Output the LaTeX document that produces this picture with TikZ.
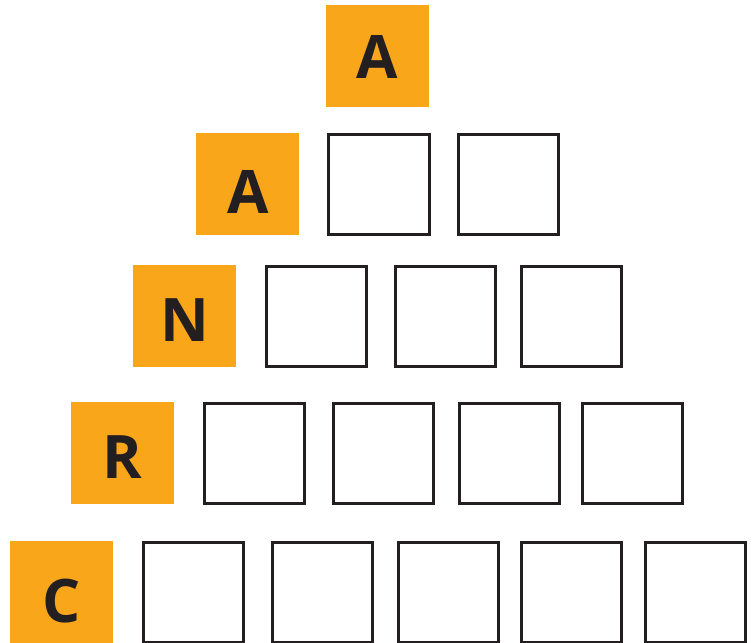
\documentclass[tikz,border=0pt]{standalone}
\usepackage{fontspec}
\setmainfont{Open Sans}
\usepackage{tikz}
\definecolor{tileorange}{HTML}{F9A61B}
\definecolor{tileink}{HTML}{231F20}

\begin{document}
\begin{tikzpicture}[
    x=1pt, y=-1pt,
    letterbox/.style={fill=tileorange, minimum width=103pt, minimum height=102pt, inner sep=0pt},
    letter/.style={inner sep=0pt, font=\fontsize{60}{60}\selectfont\bfseries, text=tileink},
    blankbox/.style={draw=tileink, line width=2.8pt, fill=white, minimum size=100.5pt, inner sep=0pt}
]
    \useasboundingbox (0,0) rectangle (753,643);
    \clip (0,0) rectangle (753,643);

    % Row 1
    \node[letterbox] (l1) at (377.5,56) {};
    \node[letter] (t1) at ([yshift=-0.5pt]l1.center) {A};

    % Row 2
    \node[letterbox] (l2) at (247.5,184) {};
    \node[letter] (t2) at ([xshift=1pt,yshift=-8pt]l2.center) {A};
    \node[blankbox] (b21) at (379,184.5) {};
    \node[blankbox] (b22) at (508.5,184.5) {};

    % Row 3
    \node[letterbox] (l3) at (184.5,316) {};
    \node[letter] (t3) at ([yshift=-4.5pt]l3.center) {N};
    \node[blankbox] (b31) at (316.5,316.5) {};
    \node[blankbox] (b32) at (445.5,316.5) {};
    \node[blankbox] (b33) at (571.5,316.5) {};

    % Row 4
    \node[letterbox] (l4) at (122.5,453) {};
    \node[letter] (t4) at ([yshift=-4pt]l4.center) {R};
    \node[blankbox] (b41) at (254.5,453.5) {};
    \node[blankbox] (b42) at (383.5,453.5) {};
    \node[blankbox] (b43) at (509.5,453.5) {};
    \node[blankbox] (b44) at (632.5,453.5) {};

    % Row 5
    \node[letterbox] (l5) at (61.5,592) {};
    \node[letter] (t5) at ([yshift=-9pt]l5.center) {C};
    \node[blankbox] (b51) at (193.5,592.5) {};
    \node[blankbox] (b52) at (322.5,592.5) {};
    \node[blankbox] (b53) at (448.5,592.5) {};
    \node[blankbox] (b54) at (571.5,592.5) {};
    \node[blankbox] (b55) at (695.5,592.5) {};
\end{tikzpicture}
\end{document}
